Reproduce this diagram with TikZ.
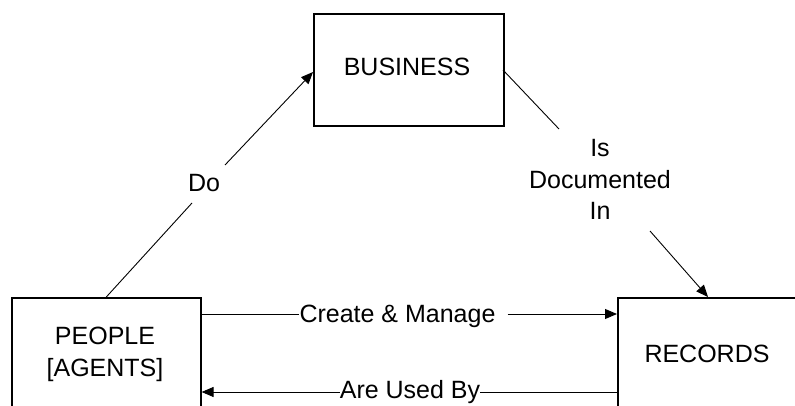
\documentclass[tikz,border=0pt]{standalone}
\usepackage{fontspec}
\setmainfont{Liberation Sans}
\usetikzlibrary{arrows.meta}
\begin{document}
\begin{tikzpicture}[x=1pt,y=-1pt,
  box/.style={draw, line width=1.6pt, inner sep=0pt, anchor=north west},
  lbl/.style={font=\fontsize{25}{32}\selectfont, inner sep=0pt, align=center},
  conn/.style={line width=0.9pt},
  arr/.style={conn, -{Triangle[length=12pt,width=10pt]}}]
\useasboundingbox (0,0) rectangle (795,406);
\clip (0,0) rectangle (795,406);
% boxes
\node[box, minimum width=190pt, minimum height=112pt] (business) at (313,13) {};
\node[box, minimum width=189pt, minimum height=200pt] (people) at (11,297) {};
\node[box, minimum width=220pt, minimum height=200pt] (records) at (617,297) {};
% box texts
\node[lbl, anchor=base] (businesstxt) at (407,76) {BUSINESS};
\node[lbl] (peopletxt) at (105,354) {PEOPLE\\{}[AGENTS]};
\node[lbl, anchor=base] (recordstxt) at (707,362) {RECORDS};
% connector labels
\node[lbl, anchor=base] (do) at (204,192) {Do};
\node[lbl, font=\fontsize{25}{31.5}\selectfont] (isdoc) at (600,179.5) {Is\\Documented\\In};
\node[lbl, anchor=base] (cm) at (397.5,322) {Create \& Manage};
\node[lbl, anchor=base] (aub) at (410,398) {Are Used By};
% helper coordinates
\coordinate (do1) at (192,203);
\coordinate (do2) at (225,165);
\coordinate (bizin) at (313,72);
\coordinate (isd1) at (559,129);
\coordinate (isd2) at (650,231);
\coordinate (bizout) at (503,70);
\coordinate (recin) at (708,297);
\coordinate (cmy) at (0,314);
\coordinate (auy) at (0,392);
% connectors
\draw[conn] (people.north) -- (do1);
\draw[arr] (do2) -- (bizin);
\draw[conn] (bizout) -- (isd1);
\draw[arr] (isd2) -- (recin);
\draw[conn] (people.east |- cmy) -- (cm.west |- cmy);
\draw[arr] ([xshift=12pt]cm.east |- cmy) -- (records.west |- cmy);
\draw[conn] (records.west |- auy) -- (aub.east |- auy);
\draw[arr] (aub.west |- auy) -- (people.east |- auy);
\end{tikzpicture}
\end{document}
